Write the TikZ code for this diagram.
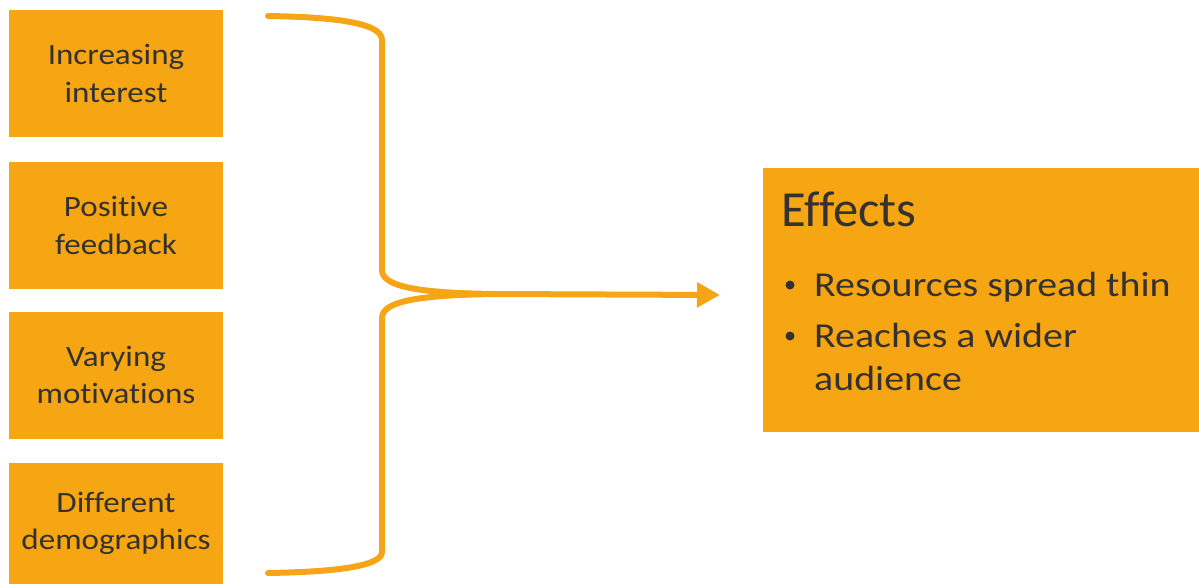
\documentclass[tikz,border=0pt]{standalone}
\usepackage{fontspec}
\setmainfont[Ligatures=NoCommon]{Carlito}
\newfontfamily\causefont[FakeStretch=1.12,Ligatures=NoCommon]{Carlito}
\newfontfamily\listfont[FakeStretch=1.14,Ligatures=NoCommon]{Carlito}
\usetikzlibrary{arrows.meta}
\definecolor{boxorange}{HTML}{F6A513}
\definecolor{lineorange}{HTML}{F6A516}
\definecolor{inkgray}{HTML}{343230}
\begin{document}
\begin{tikzpicture}[x=1pt,y=-1pt,
  causebox/.style={fill=boxorange, draw=none, minimum width=214pt, minimum height=127pt,
    inner sep=0pt, align=center, text=inkgray, font=\causefont\fontsize{29.5}{37.5}\selectfont},
  bracestroke/.style={draw=lineorange, line width=6pt, line cap=round, line join=round},
  bulletdot/.style={circle, fill=inkgray, minimum size=9pt, inner sep=0pt},
  bullettext/.style={anchor=base west, text=inkgray, inner sep=0pt, font=\listfont\fontsize{35}{42}\selectfont}]
  \useasboundingbox (0,0) rectangle (1199,584);

  % causes on the left
  \node[causebox] (c1) at (116,73.5) {Increasing\\interest};
  \node[causebox] (c2) at (116,225.5) {Positive\\feedback};
  \node[causebox] (c3) at (116,375) {Varying\\motivations};
  \node[causebox, minimum height=121pt] (c4) at (116,523.5) {Different\\demographics};

  % effects box
  \node[fill=boxorange, minimum width=436pt, minimum height=264pt, inner sep=0pt] (effects) at (981,300) {};
  \node[anchor=base west, text=inkgray, inner sep=0pt, font=\fontsize{50.5}{60}\selectfont] (title) at (781,226) {Effects};
  \node[bulletdot] (b1) at (790,285) {};
  \node[bullettext] (t1) at (814,296) {Resources spread thin};
  \node[bulletdot] (b2) at (790,336) {};
  \node[bullettext] (t2) at (814,347) {Reaches a wider};
  \node[bullettext] (t3) at (814,390) {audience};

  % brace gathering the causes
  \coordinate (btop) at (268,16);
  \coordinate (bbot) at (268,573);
  \coordinate (bmid) at (495,294);
  \coordinate (arrowend) at (720,295);
  \draw[bracestroke] (btop) .. controls (330,17) and (382,22) .. (382,40)
    -- (382,270) .. controls (382,287) and (420,293) .. (bmid);
  \draw[bracestroke] (bbot) .. controls (330,572) and (382,567) .. (382,552)
    -- (382,318) .. controls (382,301) and (420,295) .. (bmid);
  \draw[bracestroke, line cap=butt, -{Triangle[length=23pt,width=24pt]}] (bmid) -- (arrowend);
\end{tikzpicture}
\end{document}
